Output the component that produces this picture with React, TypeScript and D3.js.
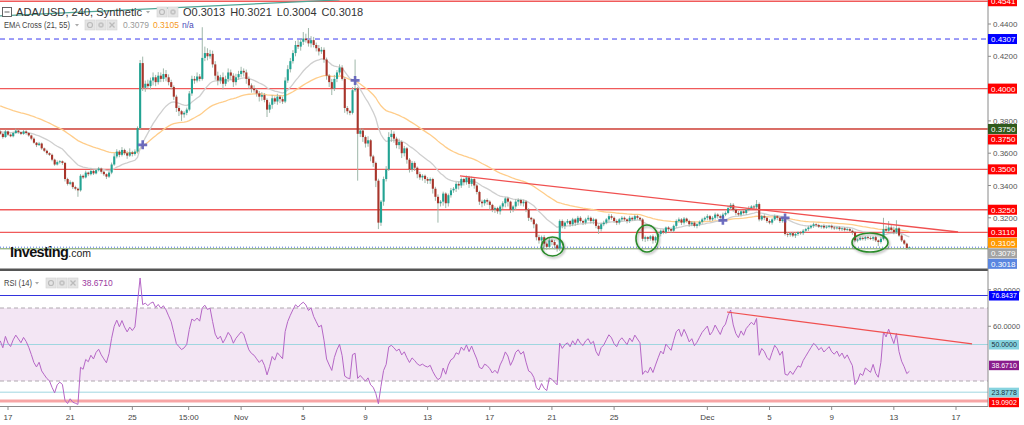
import React from 'react';
import * as d3 from 'd3';

// ---------- DATA ----------
// 4h candles, ADA/USD, starting 2022-10-16 12:00 UTC
const closes = [
  0.3720, 0.3700, 0.3735, 0.3715, 0.3705, 0.3725, 0.3740, 0.3730, 0.3720, 0.3735, 0.3725,
  0.3710, 0.3690, 0.3665, 0.3650, 0.3660, 0.3630, 0.3615, 0.3600, 0.3590,
  0.3560, 0.3530, 0.3545, 0.3550, 0.3540,
  0.3440, 0.3410, 0.3420, 0.3390, 0.3380, 0.3370,
  0.3460, 0.3450, 0.3480, 0.3470, 0.3490, 0.3475, 0.3495, 0.3505, 0.3485, 0.3470, 0.3455, 0.3480,
  0.3530, 0.3580, 0.3610, 0.3590, 0.3620, 0.3600, 0.3585, 0.3605, 0.3595, 0.3610,
  0.3756, 0.4158,
  0.4005, 0.4030, 0.4015, 0.4050, 0.4070, 0.4040, 0.4080, 0.4060, 0.4090, 0.4070, 0.4040, 0.4010,
  0.3950, 0.3880, 0.3860, 0.3840, 0.3850, 0.3870,
  0.3970, 0.4060, 0.4050, 0.4075, 0.4060,
  0.4190,
  0.4220, 0.4200, 0.4215, 0.4150,
  0.4080, 0.4050, 0.4070, 0.4030, 0.4060, 0.4100, 0.4080, 0.4040, 0.4070, 0.4090, 0.4110, 0.4100, 0.4060,
  0.4020, 0.4000, 0.3990, 0.3970, 0.3950, 0.3960, 0.3930, 0.3870, 0.3900, 0.3940, 0.3920, 0.3950, 0.3935, 0.3920,
  0.4050, 0.4120, 0.4170, 0.4220,
  0.4270, 0.4260, 0.4290, 0.4310, 0.4300, 0.4280, 0.4300, 0.4270, 0.4250, 0.4230, 0.4240,
  0.4180, 0.4080, 0.4040, 0.4000, 0.4060, 0.4100, 0.4130,
  0.4060, 0.3880, 0.3860, 0.3850, 0.3990, 0.4000,
  0.3720, 0.3740, 0.3700, 0.3660, 0.3680, 0.3580, 0.3540, 0.3430, 0.3170,
  0.3300, 0.3440, 0.3500, 0.3700, 0.3720, 0.3690,
  0.3650, 0.3670, 0.3600, 0.3630, 0.3560, 0.3500,
  0.3540, 0.3510, 0.3470, 0.3450, 0.3460, 0.3440, 0.3430,
  0.3440, 0.3380, 0.3330, 0.3290, 0.3300, 0.3350, 0.3290, 0.3340, 0.3370,
  0.3380, 0.3410, 0.3400, 0.3440, 0.3420, 0.3450, 0.3410, 0.3440, 0.3400,
  0.3360, 0.3300, 0.3290, 0.3310, 0.3300, 0.3280, 0.3250, 0.3260, 0.3240,
  0.3270, 0.3290, 0.3320, 0.3300, 0.3250, 0.3270, 0.3300, 0.3310, 0.3290, 0.3300,
  0.3250, 0.3200, 0.3190, 0.3160, 0.3080,
  0.3060, 0.3080, 0.3040, 0.3020, 0.3060, 0.3050, 0.3030, 0.3010, 0.3180,
  0.3150, 0.3170, 0.3180, 0.3160, 0.3190, 0.3170, 0.3200, 0.3180, 0.3170, 0.3190, 0.3200, 0.3180,
  0.3190, 0.3150, 0.3130, 0.3160, 0.3170, 0.3190, 0.3210, 0.3200, 0.3180, 0.3170, 0.3190,
  0.3200, 0.3190, 0.3180, 0.3200, 0.3190, 0.3210, 0.3200, 0.3190,
  0.3070, 0.3080, 0.3070, 0.3085, 0.3060, 0.3080, 0.3100,
  0.3120, 0.3110, 0.3140, 0.3130, 0.3120, 0.3150,
  0.3180, 0.3190, 0.3170, 0.3195, 0.3180, 0.3160, 0.3170, 0.3150, 0.3160, 0.3175,
  0.3190, 0.3200, 0.3210, 0.3190, 0.3200, 0.3220, 0.3210, 0.3200, 0.3220, 0.3230, 0.3260, 0.3280,
  0.3250, 0.3230, 0.3220, 0.3240, 0.3230, 0.3250, 0.3260, 0.3270, 0.3265, 0.3285,
  0.3190, 0.3210, 0.3200, 0.3180, 0.3170, 0.3190, 0.3210, 0.3200, 0.3180, 0.3190,
  0.3100, 0.3095, 0.3105, 0.3090, 0.3100, 0.3110, 0.3105, 0.3120, 0.3130, 0.3140,
  0.3150, 0.3160, 0.3155, 0.3145, 0.3150, 0.3140, 0.3145, 0.3150, 0.3140, 0.3135, 0.3140, 0.3130,
  0.3135, 0.3125, 0.3130, 0.3120, 0.3110,
  0.3060, 0.3065, 0.3075, 0.3070, 0.3080, 0.3075, 0.3070, 0.3080, 0.3060, 0.3050, 0.3070,
  0.3130, 0.3120, 0.3140, 0.3125, 0.3110, 0.3135, 0.3090,
  0.3060, 0.3040, 0.3013, 0.3018,
];

// wick lengths beyond the body, in units of 0.0001
const upperWicks = [
  8, 6, 10, 5, 7, 9, 12, 6, 5, 8, 7,
  6, 5, 8, 4, 10, 6, 5, 7, 6,
  8, 6, 10, 7, 5,
  6, 8, 12, 5, 9, 7,
  10, 8, 12, 6, 15, 9, 7, 10, 6, 8, 5, 9,
  12, 20, 15, 10, 18, 8, 12, 25, 10, 14,
  10, 19,
  40, 20, 25, 18, 30, 15, 22, 20, 35, 25, 18, 15,
  10, 12, 15, 8, 10, 12,
  15, 20, 18, 25, 15,
  190,
  40, 30, 25, 20,
  20, 25, 15, 30, 20, 25, 18, 15, 22, 20, 25, 15, 18,
  15, 12, 20, 10, 15, 18, 12, 10, 15, 20, 12, 18, 10, 15,
  20, 25, 20, 18,
  25, 30, 20, 40, 30, 75, 25, 20, 15, 20, 18,
  15, 12, 10, 20, 25, 15, 20,
  15, 10, 12, 8, 20, 180,
  10, 15, 12, 10, 25, 8, 10, 8, 12,
  10, 15, 20, 30, 25, 15,
  12, 20, 10, 15, 8, 10,
  12, 10, 8, 15, 10, 8, 12,
  10, 8, 12, 15, 10, 12, 8, 10, 15,
  10, 12, 15, 10, 8, 12, 10, 15, 8,
  10, 8, 12, 6, 10, 8, 7, 10, 8,
  10, 12, 8, 10, 6, 8, 15, 10, 8, 12,
  8, 10, 6, 8, 7,
  15, 10, 12, 8, 20, 10, 12, 8, 10,
  10, 8, 12, 6, 10, 8, 12, 10, 8, 10, 15, 8, 10, 6, 8, 10, 12, 8, 15, 12, 8, 10, 8,
  10, 8, 6, 12, 8, 10, 8, 6,
  8, 10, 6, 8, 12, 8, 10,
  8, 10, 6, 8, 10, 8,
  10, 12, 8, 10, 6, 8, 10, 8, 6, 8,
  10, 8, 12, 8, 10, 12, 8, 10, 12, 10, 15, 12,
  10, 8, 12, 10, 8, 10, 12, 8, 10, 25,
  10, 8, 12, 6, 10, 8, 10, 6, 8, 10,
  8, 10, 6, 8, 10, 6, 8, 10, 8, 10,
  8, 10, 6, 8, 6, 10, 8, 6, 8, 10, 6, 8, 6, 8, 10, 6, 8,
  8, 6, 10, 8, 6, 8, 10, 6, 8, 6, 10,
  70, 20, 40, 15, 20, 50, 10,
  8, 6, 6, 3,
];

const lowerWicks = [
  6, 10, 5, 8, 6, 7, 5, 9, 8, 6, 10,
  8, 10, 6, 12, 5, 9, 8, 10, 7,
  10, 8, 6, 9, 12,
  15, 10, 8, 12, 10, 40,
  8, 10, 6, 12, 8, 10, 6, 8, 12, 10, 15, 8,
  10, 8, 12, 15, 10, 12, 20, 8, 15, 10,
  12, 10,
  20, 25, 15, 20, 30, 25, 15, 20, 18, 25, 20, 15,
  20, 25, 30, 40, 20, 15,
  10, 15, 20, 12, 15,
  10,
  20, 25, 15, 20,
  25, 30, 20, 35, 15, 20, 25, 30, 20, 15, 20, 25, 30,
  20, 25, 15, 20, 30, 25, 15, 46, 20, 25, 15, 20, 25, 15,
  10, 15, 20, 15,
  20, 15, 25, 20, 15, 20, 25, 15, 20, 25, 15,
  20, 25, 30, 40, 15, 20, 15,
  10, 30, 20, 15, 10, 10,
  290, 20, 30, 25, 20, 30, 25, 40, 40,
  20, 25, 15, 10, 30, 25,
  20, 25, 30, 20, 25, 20,
  15, 20, 25, 15, 20, 25, 20,
  20, 30, 25, 120, 20, 25, 30, 20, 15,
  15, 20, 25, 15, 20, 15, 25, 15, 20,
  15, 20, 25, 15, 20, 30, 15, 20, 15,
  20, 15, 25, 30, 20, 15, 20, 25, 15, 20,
  15, 20, 15, 25, 20,
  20, 15, 25, 20, 15, 20, 25, 20, 15,
  15, 20, 10, 15, 12, 20, 15, 10, 15, 12, 10, 15, 20, 15, 30, 15, 12, 10, 15, 12, 10, 15, 12,
  12, 10, 15, 12, 10, 8, 12, 10,
  15, 20, 15, 12, 20, 15, 10,
  15, 12, 10, 15, 12, 10,
  12, 10, 15, 12, 10, 15, 12, 10, 15, 12,
  12, 10, 15, 12, 10, 12, 15, 10, 12, 10, 8, 10,
  12, 15, 10, 12, 10, 12, 10, 8, 10, 12,
  12, 10, 15, 12, 10, 12, 10, 15, 12, 10,
  10, 15, 12, 10, 15, 12, 10, 12, 10, 12,
  10, 12, 10, 8, 12, 10, 8, 10, 12, 10, 8, 10, 12, 10, 8, 10, 15,
  10, 12, 8, 10, 12, 10, 8, 12, 10, 25, 10,
  10, 12, 8, 10, 12, 10, 8,
  10, 8, 12, 9,
];

const WICK_UNIT = 0.0001;
const firstOpen = 0.3735;
const START_TIME = Date.UTC(2022, 9, 16, 12);
const CANDLE_MS = 4 * 3600 * 1000;

// indicator seeds (state before the first visible candle)
const ema21Seed = 0.3735;
const ema55Seed = 0.3900;
const rsiSeedGain = 0.0011;
const rsiSeedLoss = 0.0009;

// header values
const symbolTitle = 'ADA/USD, 240, Synthetic';
const ohlcLabels = ['O', 'H', 'L', 'C'];
const ohlcValues = ['0.3013', '0.3021', '0.3004', '0.3018'];
const emaLastValues = [0.3079, 0.3105];
const rsiLastValue = 38.671;

// axes
const dateTickDates = [
  Date.UTC(2022, 9, 17), Date.UTC(2022, 9, 21), Date.UTC(2022, 9, 25), Date.UTC(2022, 9, 28, 15),
  Date.UTC(2022, 10, 1), Date.UTC(2022, 10, 5), Date.UTC(2022, 10, 9), Date.UTC(2022, 10, 13),
  Date.UTC(2022, 10, 17), Date.UTC(2022, 10, 21), Date.UTC(2022, 10, 25), Date.UTC(2022, 11, 1),
  Date.UTC(2022, 11, 5), Date.UTC(2022, 11, 9), Date.UTC(2022, 11, 13), Date.UTC(2022, 11, 17),
];
const dateTickLabels = ['17', '21', '25', '15:00', 'Nov', '5', '9', '13', '17', '21', '25', 'Dec', '5', '9', '13', '17'];
const priceTicks = [0.30, 0.32, 0.34, 0.36, 0.38, 0.40, 0.42, 0.44];
const rsiTicks = [60, 80];

// horizontal levels (main pane)
const levelPrices = [0.4541, 0.4307, 0.4000, 0.3750, 0.3750, 0.3500, 0.3250, 0.3110];
const levelKinds = ['red', 'blue', 'red', 'green', 'red', 'red', 'red', 'red'];
const supportLinePrice = 0.3008;

// horizontal levels (RSI pane)
const rsiLevelValues = [76.8437, 50.0, 23.8778, 19.0902];
const rsiLevelKinds = ['blue', 'cyan', 'cyan', 'red'];

// drawings: candle index + value
const topLineIdx = [-1, 131];
const topLinePrice = [0.4450, 0.4549];
const trendMainIdx = [177.5, 369.8];
const trendMainPrice = [0.3459, 0.3112];
const trendRsiIdx = [280.6, 375.2];
const trendRsiValue = [67.8, 50.3];
const circleIdx = [213.2, 249.7, 335.8];
const circlePrice = [0.3022, 0.3072, 0.3047];

// ---------- STYLE ----------
const circleRx = [11, 11, 18];
const circleRy = [9.5, 13.5, 9.5];
const UP = '#22a393';
const DOWN = '#a8352b';
const WICK = '#9fb7aa';
const FONT = "'Liberation Sans', Arial, sans-serif";
const kindStyle: Record<string, { line: string; box: string; text: string; dash?: string; w: number }> = {
  red: { line: '#f05a5a', box: '#ff0000', text: '#fff', w: 1.3 },
  blue: { line: '#3a3af0', box: '#0000ff', text: '#fff', dash: '5,4', w: 1 },
  green: { line: '#2f5a1c', box: '#2f5a1c', text: '#fff', w: 1 },
};
const rsiKindStyle: Record<string, { line: string; box: string; text: string; w: number }> = {
  blue: { line: '#3333dd', box: '#0000ff', text: '#fff', w: 1 },
  cyan: { line: '#9fd6e0', box: '#86d3df', text: '#1b3040', w: 1 },
  red: { line: '#f7a5a5', box: '#ff0000', text: '#fff', w: 3 },
};

const W = 1024;
const PLOT_R = 988;
const MAIN_BOTTOM = 268;

// ---------- DERIVED ----------
const opens = closes.map((c, i) => (i ? closes[i - 1] : firstOpen));
const highs = closes.map((c, i) => Math.max(opens[i], c) + (upperWicks[i] ?? 8) * WICK_UNIT);
const lows = closes.map((c, i) => Math.min(opens[i], c) - (lowerWicks[i] ?? 8) * WICK_UNIT);

function ema(values: number[], period: number, seed: number) {
  const a = 2 / (period + 1);
  let e = seed;
  return values.map((v) => (e = e + a * (v - e)));
}
function rsiCalc(values: number[], period: number, g0: number, l0: number) {
  let ag = g0;
  let al = l0;
  return values.map((v, i) => {
    const prev = i ? values[i - 1] : firstOpen;
    const d = v - prev;
    ag = (ag * (period - 1) + Math.max(d, 0)) / period;
    al = (al * (period - 1) + Math.max(-d, 0)) / period;
    return 100 - 100 / (1 + ag / al);
  });
}
const ema21 = ema(closes, 21, ema21Seed);
const ema55 = ema(closes, 55, ema55Seed);
const rsi = rsiCalc(closes, 14, rsiSeedGain, rsiSeedLoss);

const xTime = d3
  .scaleTime()
  .domain([new Date(START_TIME), new Date(Date.UTC(2022, 11, 17))])
  .range([0.23, 956]);
const xi = (idx: number) => xTime(new Date(START_TIME + idx * CANDLE_MS));
const y = d3.scaleLinear().domain([0.3, 0.44]).range([250.1, 24]);
const yr = d3.scaleLinear().domain([30, 70]).range([381, 308]);

const crossIdx: number[] = [];
for (let i = 1; i < closes.length; i++) {
  const a = ema21[i - 1] - ema55[i - 1];
  const b = ema21[i] - ema55[i];
  if (a * b < 0) crossIdx.push(i);
}

function stack(items: any[], gap: number) {
  const s = [...items].sort((a, b) => a.yy - b.yy);
  let last = -1e9;
  return s.map((it) => {
    const yy = Math.max(it.yy, last + gap);
    last = yy;
    return { ...it, yy };
  });
}

const lineGen = d3.line<[number, number]>();

function Caret({ x, yy }: { x: number; yy: number }) {
  return <path d={`M${x},${yy}L${x + 4},${yy}L${x + 2},${yy + 2.5}Z`} fill="#aaa" />;
}

function IconBox({ x, yy, glyph }: { x: number; yy: number; glyph: string }) {
  return (
    <g>
      <rect x={x} y={yy} width={10} height={10} fill="#e4e4e4" stroke="#d2d2d2" strokeWidth={0.6} />
      {glyph === 'eye' && <circle cx={x + 5} cy={yy + 5} r={2.5} fill="none" stroke="#bbb" strokeWidth={1.2} />}
      {glyph === 'gear' && (
        <g>
          <circle cx={x + 5} cy={yy + 5} r={2.8} fill="#c4c4c4" />
          <circle cx={x + 5} cy={yy + 5} r={1.1} fill="#e4e4e4" />
        </g>
      )}
      {glyph === 'x' && (
        <path d={`M${x + 2.5},${yy + 2.5}L${x + 7.5},${yy + 7.5}M${x + 7.5},${yy + 2.5}L${x + 2.5},${yy + 7.5}`} stroke="#bbb" strokeWidth={1.3} />
      )}
    </g>
  );
}

export default function App() {
  const lastClose = closes[closes.length - 1];

  const mainLabels = stack(
    [
      ...levelPrices.map((v, k) => ({ v, yy: y(v), box: kindStyle[levelKinds[k]].box, text: kindStyle[levelKinds[k]].text })),
      { v: emaLastValues[1], yy: y(emaLastValues[1]), box: '#ff9800', text: '#fff' },
      { v: emaLastValues[0], yy: y(emaLastValues[0]), box: '#a3a3a3', text: '#fff' },
      { v: lastClose, yy: y(lastClose), box: '#5a86e0', text: '#fff' },
    ],
    10.5
  );

  const rsiLabels = stack(
    [
      ...rsiLevelValues.map((v, k) => ({ v, yy: yr(v), box: rsiKindStyle[rsiLevelKinds[k]].box, text: rsiKindStyle[rsiLevelKinds[k]].text })),
      { v: rsiLastValue, yy: yr(rsiLastValue), box: '#8a1c8c', text: '#fff' },
    ],
    10
  );

  const visiblePriceTicks = priceTicks.filter((v) => !mainLabels.some((l) => Math.abs(l.yy - y(v)) < 5));
  const visibleRsiTicks = rsiTicks.filter((v) => !rsiLabels.some((l) => Math.abs(l.yy - yr(v)) < 5));

  const emaPath = (arr: number[]) => lineGen(arr.map((v, i) => [xi(i), y(v)] as [number, number]));
  const rsiPath = lineGen(rsi.map((v, i) => [xi(i), yr(v)] as [number, number]));

  return (
    <svg width={W} height={425} style={{ position: 'absolute', left: 0, top: 0, background: '#fff' }} fontFamily={FONT}>
      <defs>
        <clipPath id="mainClip">
          <rect x={0} y={0} width={PLOT_R} height={MAIN_BOTTOM} />
        </clipPath>
        <clipPath id="rsiClip">
          <rect x={0} y={272} width={PLOT_R} height={134} />
        </clipPath>
        <filter id="shadow" x="-30%" y="-30%" width="160%" height="160%">
          <feDropShadow dx={1} dy={1.5} stdDeviation={1} floodColor="#000" floodOpacity={0.35} />
        </filter>
      </defs>
      <rect x={0} y={0} width={W} height={425} fill="#fff" />

      {/* ---------- MAIN PANE ---------- */}
      <g clipPath="url(#mainClip)">
        {levelPrices.map((v, k) => {
          const st = kindStyle[levelKinds[k]];
          return (
            <line key={'lv' + k} x1={0} x2={PLOT_R} y1={y(v)} y2={y(v)} stroke={st.line} strokeWidth={st.w} strokeDasharray={st.dash} />
          );
        })}
        <line x1={0} x2={PLOT_R} y1={y(supportLinePrice)} y2={y(supportLinePrice)} stroke="#6f9a5c" strokeWidth={1} />
        <line x1={0} x2={PLOT_R} y1={y(lastClose)} y2={y(lastClose)} stroke="#4a6fe0" strokeWidth={1} strokeDasharray="1,2" />

        <path
          d={lineGen(topLineIdx.map((ix, k) => [xi(ix), y(topLinePrice[k])] as [number, number])) || ''}
          stroke="#4fa596"
          strokeWidth={1.3}
          fill="none"
        />

        <path d={emaPath(ema55) || ''} fill="none" stroke="#ffcd8a" strokeWidth={1.3} />
        <path d={emaPath(ema21) || ''} fill="none" stroke="#cfcfcf" strokeWidth={1.3} />

        {closes.map((c, i) => {
          const cx = xi(i);
          const o = opens[i];
          const up = c >= o;
          const top = y(Math.max(o, c));
          const bot = y(Math.min(o, c));
          return (
            <g key={'c' + i}>
              <line x1={cx} x2={cx} y1={y(highs[i])} y2={y(lows[i])} stroke={WICK} strokeWidth={1} />
              <rect x={cx - 1} y={top} width={2.1} height={Math.max(bot - top, 0.9)} fill={up ? UP : DOWN} />
            </g>
          );
        })}

        <path
          d={lineGen(trendMainIdx.map((ix, k) => [xi(ix), y(trendMainPrice[k])] as [number, number])) || ''}
          stroke="#f05050"
          strokeWidth={1.3}
          fill="none"
        />

        {crossIdx.map((i) => {
          const cx = xi(i);
          const cy = y((ema21[i] + ema55[i]) / 2);
          return (
            <path
              key={'x' + i}
              d={`M${cx - 4.5},${cy}H${cx + 4.5}M${cx},${cy - 4.5}V${cy + 4.5}`}
              stroke="#5757b8"
              strokeWidth={2.6}
              opacity={0.85}
            />
          );
        })}

        {circleIdx.map((ix, k) => (
          <ellipse
            key={'el' + k}
            cx={xi(ix)}
            cy={y(circlePrice[k])}
            rx={circleRx[k]}
            ry={circleRy[k]}
            fill="none"
            stroke="#2a8a2a"
            strokeWidth={1.6}
            filter="url(#shadow)"
          />
        ))}

        <text x={10} y={257} fontFamily="Arial, 'Liberation Sans', sans-serif" fill="#111">
          <tspan fontWeight="bold" fontSize={14.5} letterSpacing={-0.6}>Investing</tspan>
          <tspan fontSize={10.5} fill="#222">.com</tspan>
        </text>
      </g>

      {/* header */}
      <g>
        <rect x={2.5} y={7.5} width={9} height={9} fill="#fff" stroke="#555" strokeWidth={0.9} />
        <line x1={4.5} x2={9.5} y1={12} y2={12} stroke="#555" strokeWidth={0.9} />
        <text x={16} y={16} fontSize={11} fill="#333" textLength={126} lengthAdjust="spacingAndGlyphs">{symbolTitle}</text>
        <Caret x={146} yy={11} />
        <IconBox x={157} yy={7} glyph="eye" />
        <IconBox x={168} yy={7} glyph="gear" />
        <text x={183} y={16} fontSize={11} fill="#333">
          {ohlcLabels.map((l, k) => (
            <tspan key={l} dx={k ? 5 : 0}>{l + ohlcValues[k]}</tspan>
          ))}
        </text>

        <text x={4} y={28} fontSize={8.5} fill="#444" textLength={66} lengthAdjust="spacingAndGlyphs">EMA Cross (21, 55)</text>
        <Caret x={75} yy={24} />
        <IconBox x={85} yy={20} glyph="eye" />
        <IconBox x={96} yy={20} glyph="gear" />
        <IconBox x={107} yy={20} glyph="x" />
        <text x={123} y={28} fontSize={8.5} fill="#9a9a9a">{emaLastValues[0].toFixed(4)}</text>
        <text x={153} y={28} fontSize={8.5} fill="#f59a23">{emaLastValues[1].toFixed(4)}</text>
        <text x={182} y={28} fontSize={8.5} fill="#4a4ab8">n/a</text>
      </g>

      {/* separator */}
      <rect x={0} y={268.5} width={PLOT_R} height={2.5} fill="#555" />

      {/* ---------- RSI PANE ---------- */}
      <g clipPath="url(#rsiClip)">
        <rect x={0} y={yr(70)} width={PLOT_R} height={yr(30) - yr(70)} fill="#f3e6f4" />
        <line x1={0} x2={PLOT_R} y1={yr(70)} y2={yr(70)} stroke="#b0a8b0" strokeDasharray="4,3" strokeWidth={1} />
        <line x1={0} x2={PLOT_R} y1={yr(30)} y2={yr(30)} stroke="#b0a8b0" strokeDasharray="4,3" strokeWidth={1} />
        {rsiLevelValues.map((v, k) => {
          const st = rsiKindStyle[rsiLevelKinds[k]];
          return <line key={'rl' + k} x1={0} x2={PLOT_R} y1={yr(v)} y2={yr(v)} stroke={st.line} strokeWidth={st.w} />;
        })}
        <path d={rsiPath || ''} fill="none" stroke="#b566c6" strokeWidth={1} />
        <path
          d={lineGen(trendRsiIdx.map((ix, k) => [xi(ix), yr(trendRsiValue[k])] as [number, number])) || ''}
          stroke="#f05050"
          strokeWidth={1.2}
          fill="none"
        />
      </g>
      <g>
        <text x={4} y={286} fontSize={8.5} fill="#444" textLength={28} lengthAdjust="spacingAndGlyphs">RSI (14)</text>
        <Caret x={35} yy={282} />
        <IconBox x={46} yy={278} glyph="eye" />
        <IconBox x={57} yy={278} glyph="gear" />
        <IconBox x={68} yy={278} glyph="x" />
        <text x={82} y={286} fontSize={8.5} fill="#9b3aa0">{rsiLastValue.toFixed(4)}</text>
      </g>

      {/* ---------- AXES ---------- */}
      <line x1={PLOT_R} x2={PLOT_R} y1={0} y2={407} stroke="#8a8a8a" strokeWidth={1} />
      <line x1={0} x2={PLOT_R} y1={406.5} y2={406.5} stroke="#8a8a8a" strokeWidth={1} />
      {dateTickDates.map((d, k) => {
        const tx = xTime(new Date(d));
        return (
          <g key={'dt' + k}>
            <line x1={tx} x2={tx} y1={406.5} y2={410} stroke="#8a8a8a" />
            <text x={tx} y={420} fontSize={8} fill="#444" textAnchor="middle">{dateTickLabels[k]}</text>
          </g>
        );
      })}

      {visiblePriceTicks.map((v) => (
        <g key={'pt' + v}>
          <line x1={PLOT_R} x2={PLOT_R + 3} y1={y(v)} y2={y(v)} stroke="#8a8a8a" />
          <text x={PLOT_R + 5} y={y(v) + 3} fontSize={8} fill="#555">{v.toFixed(4)}</text>
        </g>
      ))}
      {visibleRsiTicks.map((v) => (
        <g key={'rt' + v}>
          <line x1={PLOT_R} x2={PLOT_R + 3} y1={yr(v)} y2={yr(v)} stroke="#8a8a8a" />
          <text x={PLOT_R + 5} y={yr(v) + 3} fontSize={7.5} fill="#555">{v.toFixed(4)}</text>
        </g>
      ))}

      {mainLabels.map((l, k) => (
        <g key={'ml' + k}>
          <rect x={PLOT_R} y={l.yy - 5} width={29} height={10} fill={l.box} />
          <text x={PLOT_R + 3} y={l.yy + 3} fontSize={8} fill={l.text}>{l.v.toFixed(4)}</text>
        </g>
      ))}
      {rsiLabels.map((l, k) => (
        <g key={'rl' + k}>
          <rect x={PLOT_R + 1} y={l.yy - 4.5} width={30} height={9.5} fill={l.box} />
          <text x={PLOT_R + 3.5} y={l.yy + 2.7} fontSize={7} fill={l.text}>{l.v.toFixed(4)}</text>
        </g>
      ))}
    </svg>
  );
}
